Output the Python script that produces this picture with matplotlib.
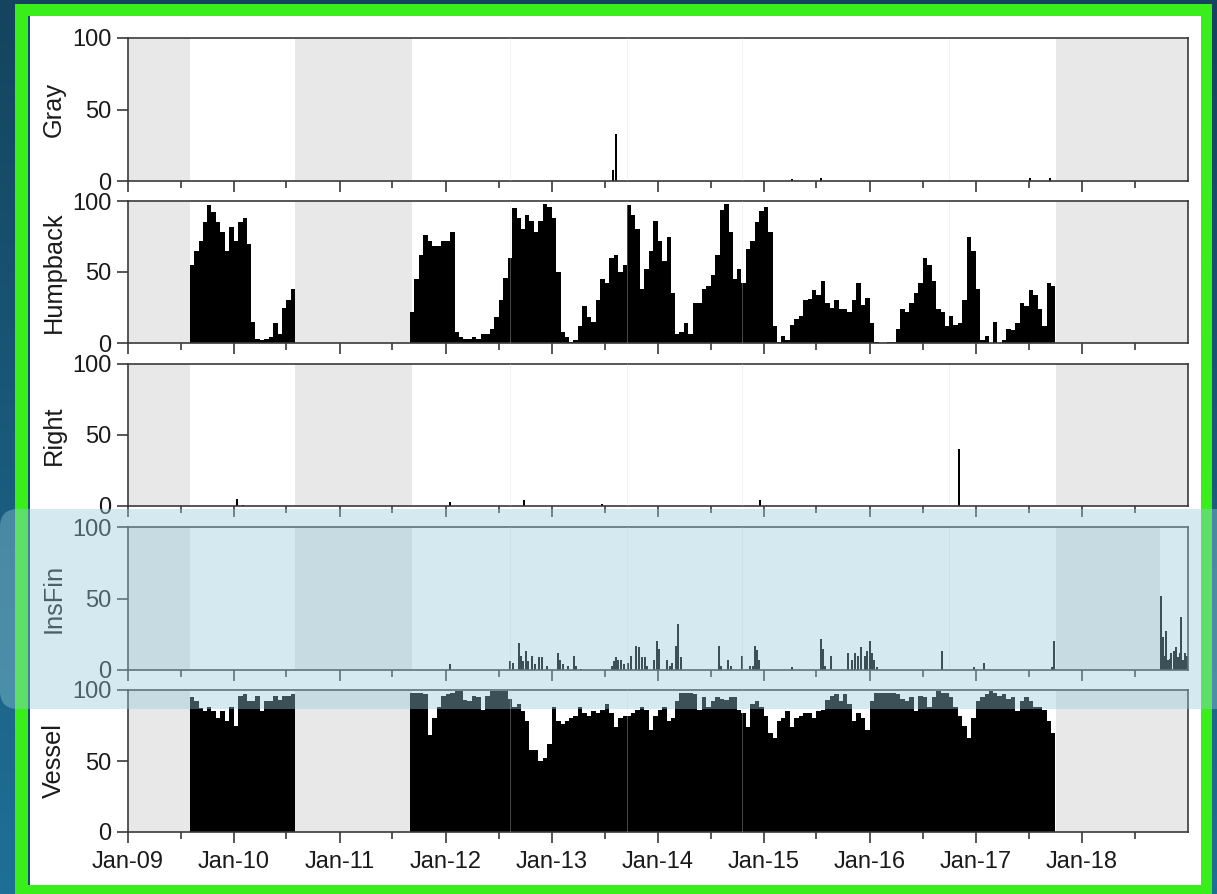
import numpy as np
import pandas as pd
import matplotlib
matplotlib.use("Agg")
import matplotlib.pyplot as plt
import matplotlib.dates as mdates
from matplotlib.patches import Rectangle, FancyBboxPatch

plt.rcParams['font.family'] = ['Liberation Sans', 'DejaVu Sans']

# ---------------- data (percent of days with presence) ----------------
panel_names = ['Gray', 'Humpback', 'Right', 'InsFin', 'Vessel']

# half-month bins (1st / 15th of each month)
deploy1_start = '2009-08-01'   # 24 bins
deploy2_start = '2011-09-01'   # 146 bins

humpback_d1 = [55, 65, 72, 85, 97, 92, 85, 78, 65, 82, 72, 85,
               88, 70, 15, 3, 2, 3, 4, 14, 6, 25, 30, 38]
humpback_d2 = [
    22, 45, 62, 76, 72, 68, 68, 72,                                            # 2011 Sep-Dec
    72, 78, 8, 4, 3, 3, 4, 3, 6, 6, 10, 18, 30, 46, 60, 95, 88, 80, 90, 86, 78, 86, 98, 96,   # 2012
    88, 50, 8, 4, 1, 2, 12, 26, 18, 15, 30, 45, 42, 60, 62, 50, 55, 97, 90, 80, 38, 52, 65, 86,  # 2013
    72, 58, 75, 35, 6, 8, 14, 6, 28, 28, 38, 40, 48, 62, 94, 98, 78, 45, 52, 42, 66, 72, 85, 93,  # 2014
    96, 78, 12, 1, 5, 2, 13, 17, 19, 30, 31, 37, 34, 44, 28, 25, 30, 24, 24, 22, 30, 42, 27, 32,  # 2015
    14, 1, 0, 0, 1, 1, 10, 24, 22, 28, 35, 42, 60, 55, 44, 24, 22, 12, 19, 13, 14, 30, 75, 65,   # 2016
    38, 2, 5, 0, 15, 0, 2, 10, 9, 14, 28, 26, 37, 34, 24, 12, 42, 40,                          # 2017 Jan-Sep
]

vessel_d1 = [95, 92, 87, 85, 88, 85, 80, 85, 78, 88, 75, 96,
             97, 92, 92, 96, 85, 92, 92, 96, 93, 96, 96, 97]
vessel_d2 = [
    98, 98, 98, 97, 68, 80, 88, 96,
    97, 98, 99, 99, 93, 92, 96, 95, 86, 96, 99, 99, 99, 99, 94, 88, 90, 85, 78, 58, 58, 50, 52, 62,
    88, 78, 76, 78, 80, 82, 88, 84, 82, 85, 84, 86, 90, 84, 74, 80, 82, 82, 84, 86, 88, 86, 72, 82,
    86, 88, 78, 80, 92, 98, 98, 98, 97, 86, 95, 88, 92, 95, 94, 93, 95, 95, 86, 84, 74, 90, 92, 88,
    82, 70, 66, 78, 80, 85, 74, 80, 82, 84, 84, 80, 85, 86, 93, 96, 97, 92, 97, 90, 78, 84, 80, 72,
    92, 98, 98, 98, 98, 98, 97, 94, 92, 95, 85, 96, 95, 88, 95, 99, 98, 98, 95, 88, 82, 75, 66, 80,
    92, 95, 97, 99, 98, 96, 97, 94, 95, 85, 92, 95, 92, 88, 88, 86, 78, 70,
]

# sparse weekly detections
gray_dates = ['2013-07-30', '2013-08-08', '2015-04-07', '2015-07-15', '2017-07-05', '2017-09-14']
gray_vals = [8, 33, 1.5, 2, 2, 2]

right_dates = ['2010-01-10', '2010-01-31', '2012-01-15', '2012-09-26', '2013-06-22',
               '2014-12-20', '2016-11-02']
right_vals = [5, 1, 3, 4, 1.5, 4, 40]

insfin_dates = [
    '2012-01-15',
    '2012-08-10', '2012-08-18', '2012-09-10', '2012-09-17', '2012-09-24', '2012-10-02',
    '2012-10-10', '2012-10-25', '2012-11-03', '2012-11-17', '2012-11-28', '2012-12-15',
    '2013-01-20', '2013-01-27', '2013-02-08', '2013-02-25', '2013-03-18', '2013-03-25',
    '2013-04-12', '2013-07-27', '2013-08-03', '2013-08-10', '2013-08-17', '2013-08-25',
    '2013-09-06', '2013-09-18', '2013-09-29', '2013-10-16', '2013-10-28', '2013-11-08',
    '2013-11-16', '2013-11-25', '2013-12-18', '2013-12-30',
    '2014-01-05', '2014-02-02', '2014-02-10', '2014-02-19', '2014-03-03', '2014-03-12',
    '2014-03-20', '2014-07-30', '2014-08-07', '2014-08-30', '2014-09-08', '2014-10-18',
    '2014-11-13', '2014-11-23', '2014-11-30', '2014-12-08', '2014-12-15',
    '2015-04-07', '2015-07-16', '2015-07-22', '2015-07-31', '2015-08-19', '2015-10-17',
    '2015-10-30', '2015-11-11', '2015-11-22', '2015-12-03', '2015-12-15', '2015-12-22',
    '2016-01-01', '2016-01-08', '2016-01-14', '2016-01-25', '2016-09-06', '2016-12-24',
    '2017-01-27', '2017-09-19', '2017-09-27',
    '2018-09-30', '2018-10-06', '2018-10-12', '2018-10-17', '2018-10-25', '2018-10-31',
    '2018-11-05', '2018-11-14', '2018-11-22', '2018-11-28', '2018-12-03', '2018-12-09',
    '2018-12-15', '2018-12-21', '2018-12-27',
]
insfin_vals = [
    4,
    6, 5, 19, 10, 6, 13,
    6, 10, 4, 9, 9, 3,
    12, 7, 4, 3, 10, 3,
    1, 3, 6, 9, 7, 7,
    4, 5, 10, 17, 16, 9,
    9, 3, 7, 20,
    15, 7, 3, 5, 17, 32,
    9, 17, 3, 7, 3, 10,
    3, 3, 17, 14, 7,
    2, 22, 15, 3, 10, 12,
    7, 12, 10, 16, 10, 13,
    20, 12, 7, 2, 13, 2,
    5, 2, 20,
    52, 23, 10, 27, 7, 8,
    12, 13, 16, 9, 12, 37,
    7, 12, 10,
]

# periods without recordings (grey background)
nodata_spans = [('2009-01-01', '2009-08-03'), ('2010-07-31', '2011-09-06'),
                ('2017-10-04', '2019-01-02')]
insfin_nodata_spans = [('2009-01-01', '2009-08-03'), ('2010-07-31', '2011-09-06'),
                       ('2017-10-04', '2018-09-28')]
gap_days = ['2012-08-10', '2013-09-17', '2014-10-20', '2016-09-30']

year_ticks = ['Jan-09', 'Jan-10', 'Jan-11', 'Jan-12', 'Jan-13',
              'Jan-14', 'Jan-15', 'Jan-16', 'Jan-17', 'Jan-18']

# ---------------- figure ----------------
W, H = 1217, 894
fig = plt.figure(figsize=(W / 100, H / 100), dpi=100)

# decorative frame
bg = fig.add_axes([0, 0, 1, 1], zorder=-10)
bg.set_xlim(0, W); bg.set_ylim(H, 0); bg.axis('off')
grad = np.linspace(0, 1, 256)[:, None]
c0 = np.array([20, 68, 94]) / 255
c1 = np.array([31, 112, 150]) / 255
img = c0[None, None, :] * (1 - grad[..., None]) + c1[None, None, :] * grad[..., None]
bg.imshow(img, extent=[0, W, H, 0], aspect='auto')
bg.add_patch(Rectangle((15, 4), 1197, 895, color='#3aee1c', lw=0))
bg.add_patch(Rectangle((28, 16), 1173, 869, color='#14506c', lw=0))
bg.add_patch(Rectangle((30, 16), 1171, 869, color='white', lw=0))

def d2n(s):
    return mdates.date2num(pd.Timestamp(s))

def halfmonth_bars(ax, start, vals):
    edges = pd.date_range(start, periods=len(vals) + 1, freq='SMS')
    x = mdates.date2num(edges.to_pydatetime())
    ax.bar(x[:-1], vals, width=np.diff(x), align='edge', color='black', lw=0, zorder=2)

def sparse_bars(ax, dates, vals):
    x = [d2n(d) for d in dates]
    ax.bar(x, vals, width=7, align='center', color='black', lw=0, zorder=2)

panel_px = [(38, 181), (201, 343), (364, 506), (527, 670), (690, 832)]
left_px, right_px = 128, 1188

xmin, xmax = d2n('2009-01-01'), d2n('2019-01-01')
major = [d2n(f'{y}-01-01') for y in range(2009, 2019)]
minor = [d2n(f'{y}-07-01') for y in range(2009, 2019)]

axes = []
for i, name in enumerate(panel_names):
    top, bot = panel_px[i]
    ax = fig.add_axes([left_px / W, 1 - bot / H, (right_px - left_px) / W, (bot - top) / H])
    axes.append(ax)
    spans = insfin_nodata_spans if name == 'InsFin' else nodata_spans
    for a, b in spans:
        ax.axvspan(d2n(a), d2n(b), color='#e8e8e8', lw=0, zorder=0)
    for g in gap_days:
        ax.axvspan(d2n(g) - 1.5, d2n(g) + 1.5, color='#efefef', lw=0, zorder=0.5)
        ax.axvspan(d2n(g) - 1.0, d2n(g) + 1.0, color='white', alpha=0.28, lw=0, zorder=3)
    if name == 'Humpback':
        halfmonth_bars(ax, deploy1_start, humpback_d1)
        halfmonth_bars(ax, deploy2_start, humpback_d2)
    elif name == 'Vessel':
        halfmonth_bars(ax, deploy1_start, vessel_d1)
        halfmonth_bars(ax, deploy2_start, vessel_d2)
    elif name == 'Gray':
        sparse_bars(ax, gray_dates, gray_vals)
    elif name == 'Right':
        sparse_bars(ax, right_dates, right_vals)
    elif name == 'InsFin':
        sparse_bars(ax, insfin_dates, insfin_vals)

    ax.set_xlim(xmin, xmax)
    ax.set_ylim(0, 100)
    ax.set_yticks([0, 50, 100])
    ax.set_xticks(major)
    ax.set_xticks(minor, minor=True)
    if i == len(panel_names) - 1:
        ax.set_xticklabels(year_ticks)
    else:
        ax.set_xticklabels([])
    for sp in ax.spines.values():
        sp.set_color('#3a3a3a'); sp.set_linewidth(1.2)
    ax.tick_params(axis='both', which='major', direction='out', length=8, width=1.2,
                   color='#3a3a3a', labelsize=17, labelcolor='#1a1a1a', pad=4)
    ax.tick_params(axis='x', which='minor', direction='out', length=5, width=1.2, color='#3a3a3a')
    ax.tick_params(axis='x', which='major', pad=6)
    ax.set_ylabel(name, fontsize=18.3, color='#1a1a1a')
    ax.yaxis.set_label_coords((66 - left_px) / (right_px - left_px), 0.5)
    ax.set_facecolor('white')

# translucent highlight band over the InsFin row
ov = fig.add_axes([0, 0, 1, 1], zorder=20)
ov.set_xlim(0, W); ov.set_ylim(H, 0); ov.axis('off')
ov.patch.set_alpha(0)
ov.add_patch(FancyBboxPatch((0, 509), 1260, 200, boxstyle='round,pad=0,rounding_size=18',
                            facecolor=(0.58, 0.80, 0.86), alpha=0.40, lw=0))

fig.savefig('out.png', dpi=100)
